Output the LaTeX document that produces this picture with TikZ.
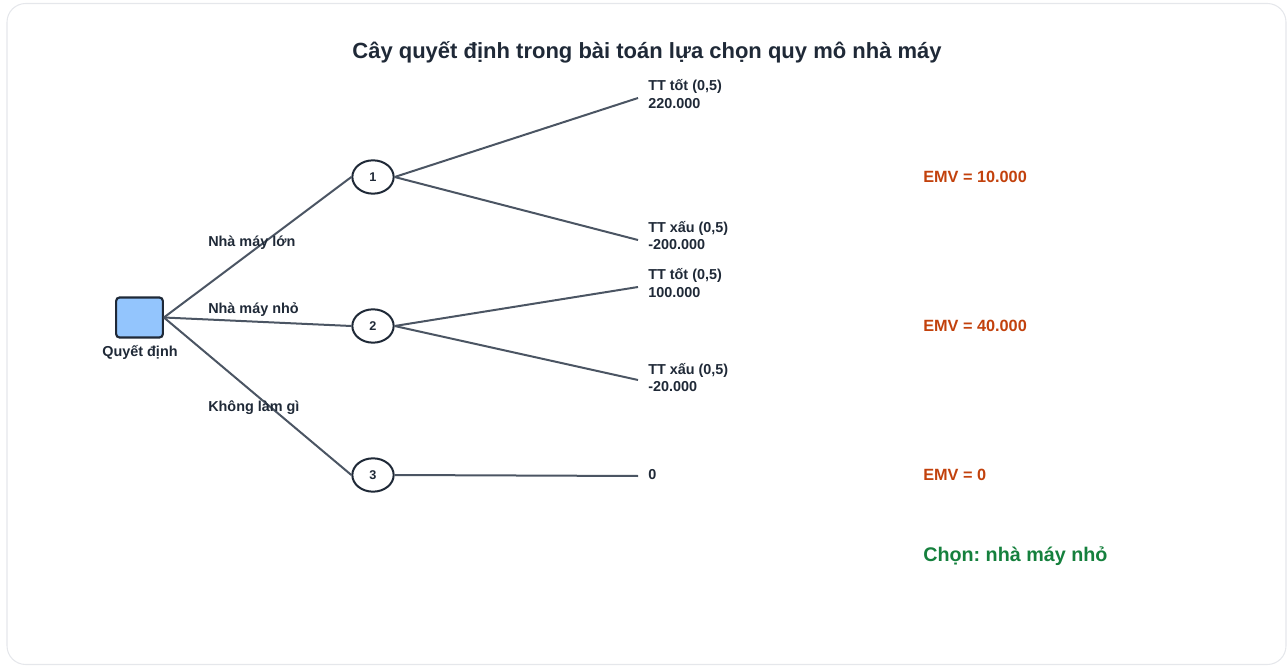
\documentclass[tikz,border=0pt]{standalone}
\usepackage{fontspec}
\setmainfont{Liberation Sans}
\frenchspacing
\usetikzlibrary{shapes.geometric}
\definecolor{ink}{HTML}{1F2937}
\definecolor{edge}{HTML}{4B5563}
\definecolor{boxfill}{HTML}{93C5FD}
\definecolor{emv}{HTML}{C2410C}
\definecolor{pick}{HTML}{15803D}
\definecolor{frame}{HTML}{E5E7EB}
\tikzset{
  decisionbox/.style={draw=ink, fill=boxfill, line width=1.6pt, rounded corners=2.5pt,
    minimum width=35pt, minimum height=30pt, inner sep=0pt},
  chance/.style={ellipse, draw=ink, line width=1.5pt, fill=white,
    minimum width=31pt, minimum height=25pt, inner sep=0pt,
    font=\bfseries\fontsize{9.5}{11}\selectfont, text=ink},
  branch/.style={draw=edge, line width=1.5pt},
  lbl/.style={font=\bfseries\fontsize{10.8}{13}\selectfont, text=ink, inner sep=0pt},
  leaf/.style={lbl, anchor=west, align=left},
  emvlbl/.style={font=\bfseries\fontsize{12.2}{14}\selectfont, text=emv, anchor=west, inner sep=0pt},
}
\begin{document}
\begin{tikzpicture}[x=0.75pt, y=-0.75pt]
  \useasboundingbox (0,0) rectangle (1288,666);
  % outer card
  \draw[frame, line width=0.8pt, rounded corners=14pt] (7,3.5) rectangle (1286,664.5);

  % title
  \node[font=\bfseries\fontsize{16.5}{19}\selectfont, text=ink] (title) at (647,52)
    {Cây quyết định trong bài toán lựa chọn quy mô nhà máy};

  % decision and chance nodes
  \node[decisionbox] (dec) at (139.5,317.5) {};
  \node[lbl] (declbl) at (140,352) {Quyết định};
  \node[chance] (c1) at (373,177) {1};
  \node[chance] (c2) at (373,326) {2};
  \node[chance] (c3) at (373,475) {3};

  % outcome end points
  \coordinate (e1a) at (638,98);
  \coordinate (e1b) at (638,240);
  \coordinate (e2a) at (638,287);
  \coordinate (e2b) at (638,380);
  \coordinate (e3) at (638,476);

  % branches
  \draw[branch] (dec.east) -- (c1.west);
  \draw[branch] (dec.east) -- (c2.west);
  \draw[branch] (dec.east) -- (c3.west);
  \draw[branch] (c1.east) -- (e1a);
  \draw[branch] (c1.east) -- (e1b);
  \draw[branch] (c2.east) -- (e2a);
  \draw[branch] (c2.east) -- (e2b);
  \draw[branch] (c3.east) -- (e3);

  % branch labels
  \node[lbl, anchor=west] (b1) at (208,243) {Nhà máy lớn};
  \node[lbl, anchor=west] (b2) at (208,310) {Nhà máy nhỏ};
  \node[lbl, anchor=west] (b3) at (208,408) {Không làm gì};

  % outcomes
  \node[leaf] (o1a) at (648,94) {TT tốt (0,5)\\220.000};
  \node[leaf] (o1b) at (648,235.5) {TT xấu (0,5)\\-200.000};
  \node[leaf] (o2a) at (648,283) {TT tốt (0,5)\\100.000};
  \node[leaf] (o2b) at (648,377.5) {TT xấu (0,5)\\-20.000};
  \node[leaf] (o3) at (648,475) {0};

  % expected values
  \node[emvlbl] (v1) at (923,177) {EMV = 10.000};
  \node[emvlbl] (v2) at (923,326) {EMV = 40.000};
  \node[emvlbl] (v3) at (923,475) {EMV = 0};
  \node[font=\bfseries\fontsize{14.8}{17}\selectfont, text=pick, anchor=west, inner sep=0pt]
    (choice) at (923,556) {Chọn: nhà máy nhỏ};
\end{tikzpicture}
\end{document}
